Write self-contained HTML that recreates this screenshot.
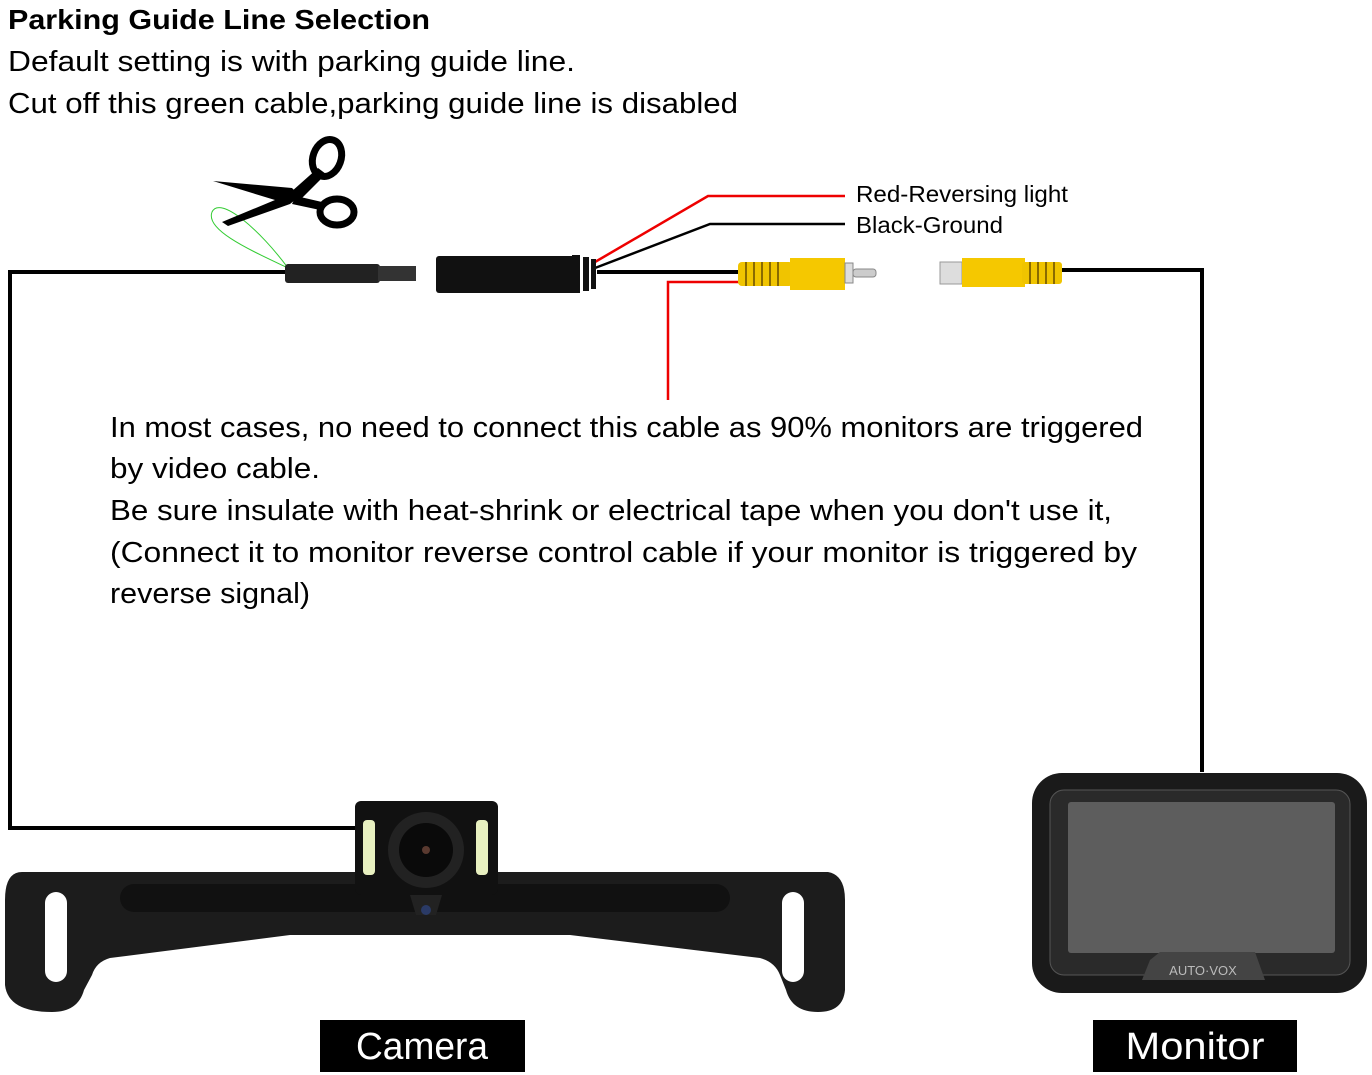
<!DOCTYPE html>
<html><head><meta charset="utf-8"><style>html,body{margin:0;padding:0;background:#fff;}svg{display:block;}</style></head>
<body>
<svg width="1372" height="1075" viewBox="0 0 1372 1075" xmlns="http://www.w3.org/2000/svg" font-family="Liberation Sans, sans-serif">
<rect width="1372" height="1075" fill="#fff"/>
<text x="8" y="29" font-size="28" font-weight="bold" textLength="422" lengthAdjust="spacingAndGlyphs">Parking Guide Line Selection</text>
<text x="8" y="71" font-size="29" textLength="567" lengthAdjust="spacingAndGlyphs">Default setting is with parking guide line.</text>
<text x="8" y="113" font-size="29" textLength="730" lengthAdjust="spacingAndGlyphs">Cut off this green cable,parking guide line is disabled</text>
<g fill="none" stroke="#000" stroke-width="4">
<path d="M8 272 H292"/>
<path d="M10 272 V828 H358"/>
<path d="M597 272 H742"/>
<path d="M1060 270 H1202 V772"/>
</g>
<path d="M595 262 L708 196 H845" stroke="#e00" stroke-width="2.5" fill="none"/>
<path d="M595 268 L710 224 H845" stroke="#000" stroke-width="2.5" fill="none"/>
<path d="M740 282 H668 V400" stroke="#e00" stroke-width="2.5" fill="none"/>
<path d="M288 268 C250 250 205 230 212 212 C220 195 260 230 288 268" stroke="#3c3" stroke-width="1" fill="none"/>
<!-- scissors -->
<g fill="#000">
<path d="M213 181 L292 188 L300 196 L290 204 L228 226 L222 222 L275 200 Z"/>
<path d="M282 200 L318 168 L326 174 L300 200 Z"/>
<path d="M296 196 L322 202 L320 210 L292 204 Z"/>
<ellipse cx="327" cy="158" rx="14" ry="19" transform="rotate(20 327 158)" fill="none" stroke="#000" stroke-width="7"/>
<ellipse cx="337" cy="212" rx="17" ry="13" fill="none" stroke="#000" stroke-width="7"/>
</g>
<rect x="285" y="264" width="95" height="19" rx="3" fill="#222"/>
<rect x="378" y="266" width="38" height="15" fill="#333"/>
<rect x="436" y="256" width="140" height="37" rx="3" fill="#111"/>
<g fill="#111"><rect x="572" y="255" width="8" height="38"/><rect x="583" y="257" width="6" height="34"/><rect x="591" y="259" width="5" height="30"/></g>
<rect x="738" y="262" width="55" height="24" rx="4" fill="#f0c400"/>
<g stroke="#8a6a00" stroke-width="2"><path d="M746 262V286M754 262V286M762 262V286M770 262V286M778 262V286"/></g>
<path d="M790 258 H845 V290 H790 Z" fill="#f5c800"/>
<rect x="845" y="263" width="8" height="20" fill="#ddd" stroke="#888"/>
<rect x="853" y="269" width="23" height="8" rx="3" fill="#ccc" stroke="#888"/>
<rect x="940" y="262" width="22" height="22" fill="#ddd" stroke="#999"/>
<path d="M962 258 H1025 V287 H962 Z" fill="#f5c800"/>
<rect x="1022" y="262" width="40" height="22" rx="3" fill="#f0c400"/>
<g stroke="#8a6a00" stroke-width="2"><path d="M1030 262V284M1038 262V284M1046 262V284M1054 262V284"/></g>
<text x="856" y="202" font-size="23" textLength="212" lengthAdjust="spacingAndGlyphs">Red-Reversing light</text>
<text x="856" y="233" font-size="23" textLength="147" lengthAdjust="spacingAndGlyphs">Black-Ground</text>
<g font-size="29">
<text x="110" y="437" textLength="1033" lengthAdjust="spacingAndGlyphs">In most cases, no need to connect this cable as 90% monitors are triggered</text>
<text x="110" y="478" textLength="210" lengthAdjust="spacingAndGlyphs">by video cable.</text>
<text x="110" y="520" textLength="1002" lengthAdjust="spacingAndGlyphs">Be sure insulate with heat-shrink or electrical tape when you don't use it,</text>
<text x="110" y="562" textLength="1027" lengthAdjust="spacingAndGlyphs">(Connect it to monitor reverse control cable if your monitor is triggered by</text>
<text x="110" y="603" textLength="200" lengthAdjust="spacingAndGlyphs">reverse signal)</text>
</g>
<!-- camera plate -->
<path d="M22 872 H828 Q845 875 845 900 V990 Q843 1012 818 1012 Q792 1012 786 990 L780 975 Q775 962 760 958 L570 935 L290 935 L110 958 Q96 962 92 975 L84 990 Q78 1012 52 1012 Q8 1012 5 985 V900 Q5 872 22 872 Z" fill="#1c1c1c"/>
<rect x="120" y="884" width="610" height="28" rx="14" fill="#111"/>
<rect x="45" y="892" width="22" height="90" rx="11" fill="#fff"/>
<rect x="782" y="892" width="22" height="90" rx="11" fill="#fff"/>
<rect x="355" y="801" width="143" height="94" rx="6" fill="#111"/>
<circle cx="426" cy="850" r="38" fill="#222"/>
<circle cx="426" cy="850" r="27" fill="#0a0a0a"/>
<circle cx="426" cy="850" r="4" fill="#5a3a30"/>
<rect x="363" y="820" width="12" height="55" rx="4" fill="#e8f0c0"/>
<rect x="476" y="820" width="12" height="55" rx="4" fill="#e8f0c0"/>
<path d="M410 895 H442 L436 915 H416 Z" fill="#222"/>
<circle cx="426" cy="910" r="5" fill="#2a3a66"/>
<!-- monitor -->
<rect x="1032" y="773" width="335" height="220" rx="30" fill="#1a1a1a"/>
<rect x="1050" y="790" width="300" height="185" rx="14" fill="#2a2a2a" stroke="#555" stroke-width="1"/>
<rect x="1068" y="802" width="267" height="151" rx="3" fill="#5d5d5d"/>
<path d="M1150 960 L1160 952 H1255 L1265 980 H1142 Z" fill="#444"/>
<text x="1203" y="975" font-size="13" fill="#bbb" text-anchor="middle">AUTO·VOX</text>
<rect x="320" y="1020" width="205" height="52" fill="#000"/>
<text x="422" y="1059" font-size="38" fill="#fff" text-anchor="middle" textLength="132" lengthAdjust="spacingAndGlyphs">Camera</text>
<rect x="1093" y="1020" width="204" height="52" fill="#000"/>
<text x="1195" y="1059" font-size="38" fill="#fff" text-anchor="middle" textLength="139" lengthAdjust="spacingAndGlyphs">Monitor</text>
</svg>
</body></html>
